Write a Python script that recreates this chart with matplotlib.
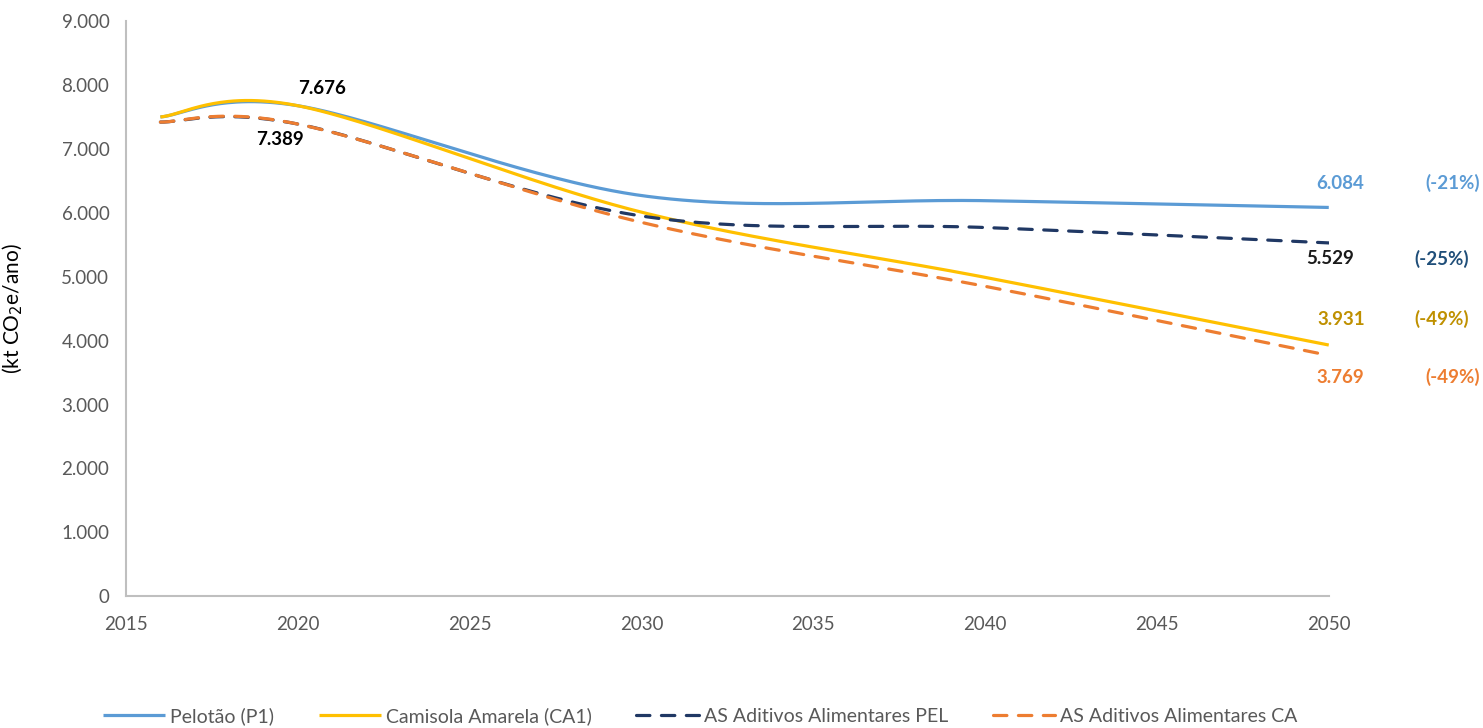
"""Emissões projetadas por cenário, 2016-2050."""

import numpy as np
import matplotlib.pyplot as plt
from matplotlib.ticker import FuncFormatter

plt.rcParams["font.family"] = ["Lato", "DejaVu Sans"]

YEARS = [2016, 2020, 2030, 2040, 2050]
PELOTAO = [7500, 7676, 6270, 6190, 6084]
CAMISOLA = [7500, 7676, 6010, 4990, 3931]
ADIT_PEL = [7420, 7389, 5950, 5770, 5529]
ADIT_CA = [7420, 7389, 5850, 4850, 3769]

LABELS = ["Pelotão (P1)", "Camisola Amarela (CA1)",
          "AS Aditivos Alimentares PEL", "AS Aditivos Alimentares CA"]

BLUE = "#5B9BD5"
YELLOW = "#FFC000"
NAVY = "#203864"
ORANGE = "#ED7D31"
GREY_TXT = "#595959"
AXIS_GREY = "#BFBFBF"


def smooth(xs, ys, n=60):
    """Bezier smoothing through the points, like spreadsheet 'smoothed lines'."""
    p = np.column_stack([xs, ys]).astype(float)
    pts = np.vstack([p[0], p, p[-1]])
    out = []
    t = np.linspace(0, 1, n)[:, None]
    for i in range(1, len(pts) - 2):
        p0, p1 = pts[i], pts[i + 1]
        c1 = p0 + (pts[i + 1] - pts[i - 1]) / 6
        c2 = p1 - (pts[i + 2] - pts[i]) / 6
        seg = ((1 - t) ** 3) * p0 + 3 * ((1 - t) ** 2) * t * c1 \
            + 3 * (1 - t) * t ** 2 * c2 + t ** 3 * p1
        out.append(seg if i == 1 else seg[1:])
    seg = np.vstack(out)
    return seg[:, 0], seg[:, 1]


fig = plt.figure(figsize=(14.83, 7.28), dpi=100)
ax = fig.add_axes([0.085, 0.181, 0.811, 0.790])

lw = 2.3
series = [
    (PELOTAO, BLUE, "-"),
    (CAMISOLA, YELLOW, "-"),
    (ADIT_PEL, NAVY, "--"),
    (ADIT_CA, ORANGE, "--"),
]
handles = []
for (vals, color, ls), label in zip(series, LABELS):
    sx, sy = smooth(YEARS, vals)
    if ls == "--":
        (ln,) = ax.plot(sx, sy, color=color, lw=lw, dashes=(4.2, 3.6),
                        dash_capstyle="round", label=label)
    else:
        (ln,) = ax.plot(sx, sy, color=color, lw=lw, solid_capstyle="butt",
                        label=label)
    handles.append(ln)

ax.set_xlim(2015, 2050)
ax.set_ylim(0, 9000)
ax.set_xticks(range(2015, 2051, 5))
ax.set_yticks(range(0, 9001, 1000))
ax.yaxis.set_major_formatter(FuncFormatter(lambda v, _: f"{int(v):,}".replace(",", ".")))
ax.tick_params(length=0, labelsize=13.5, colors=GREY_TXT, pad=12)
ax.tick_params(axis="x", pad=14)
for s in ("top", "right"):
    ax.spines[s].set_visible(False)
for s in ("left", "bottom"):
    ax.spines[s].set_color(AXIS_GREY)
    ax.spines[s].set_linewidth(1.5)

ax.set_ylabel("(kt CO$_2$e/ano)", fontsize=15, color="black")
ax.yaxis.set_label_coords(-0.084, 0.5)


def fmt(v):
    return f"{v:,}".replace(",", ".")


def note(x, y, text, color, dx, dy):
    ax.annotate(text, xy=(x, y), xytext=(dx, dy), textcoords="offset pixels",
                ha="center", va="center", fontsize=13.5, fontweight="bold",
                color=color, annotation_clip=False)


# valores em 2020
note(2020, PELOTAO[1], fmt(PELOTAO[1]), "black", 24, 17)
note(2020, ADIT_PEL[1], fmt(ADIT_PEL[1]), "black", -18, -15)

# valores e variação em 2050
ends = [
    (PELOTAO, BLUE, BLUE, 11, 24, 124),
    (ADIT_PEL, "#1A1A1A", "#1F4E79", 1, -16, 113),
    (CAMISOLA, "#BF9000", "#BF9000", 12, 26, 113),
    (ADIT_CA, ORANGE, ORANGE, 12, -22, 124),
]
for vals, c_val, c_pct, dx, dy, px in ends:
    note(2050, vals[-1], fmt(vals[-1]), c_val, dx, dy)
    pct = round((vals[-1] / vals[1] - 1) * 100)
    note(2050, vals[-1], f"({pct}%)", c_pct, px, dy)

fig.legend(handles=handles, loc="center", bbox_to_anchor=(0.472, 0.016),
           ncol=4, frameon=False, fontsize=14, handlelength=3.2,
           columnspacing=2.3, handletextpad=0.25, labelcolor=GREY_TXT,
           borderpad=0)

fig.savefig("out.png", dpi=100, facecolor="white")
